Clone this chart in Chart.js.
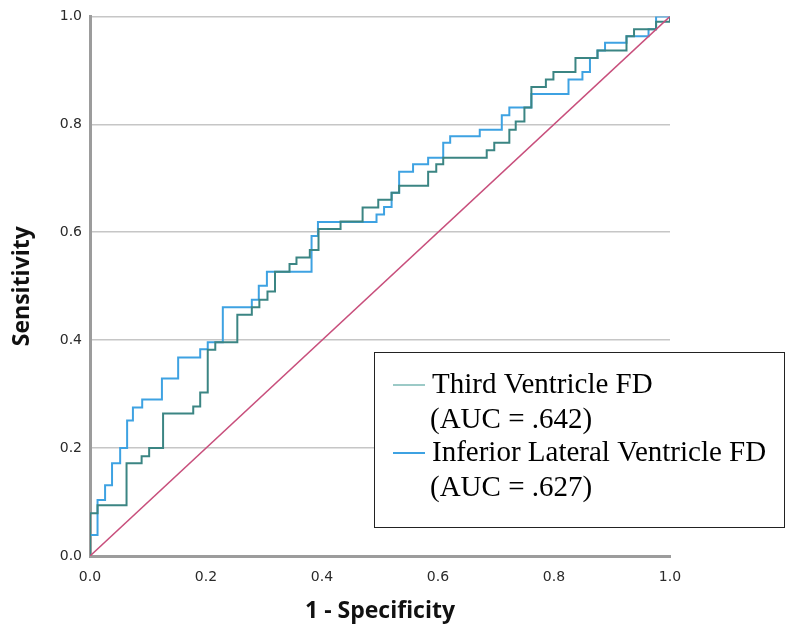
<!DOCTYPE html>
<html>
<head>
<meta charset="utf-8">
<title>ROC curve</title>
<script src="https://cdn.jsdelivr.net/npm/chart.js@4.4.1/dist/chart.umd.min.js"></script>
<style>
  html, body { margin: 0; padding: 0; background: #fff; }
  #wrap { width: 786px; height: 628px; }
</style>
</head>
<body>
<div id="wrap"><canvas id="roc" width="786" height="628"></canvas></div>
<script>
// ROC points (1 - specificity, sensitivity), one array each
const thirdFpr = [0, 0, 0.013, 0.063, 0.089, 0.102, 0.126, 0.178, 0.19, 0.203,
  0.216, 0.254, 0.279, 0.292, 0.306, 0.319, 0.344, 0.356, 0.379, 0.394,
  0.432, 0.47, 0.497, 0.52, 0.533, 0.583, 0.597, 0.609, 0.684, 0.697,
  0.723, 0.734, 0.749, 0.761, 0.786, 0.799, 0.837, 0.875, 0.925, 0.938,
  0.976, 1.0];
const thirdTpr = [0, 0.079, 0.094, 0.172, 0.185, 0.2, 0.264, 0.277, 0.303, 0.382,
  0.396, 0.447, 0.461, 0.475, 0.49, 0.527, 0.541, 0.553, 0.567, 0.606,
  0.62, 0.646, 0.66, 0.673, 0.686, 0.712, 0.726, 0.738, 0.752, 0.766,
  0.79, 0.805, 0.831, 0.869, 0.883, 0.897, 0.923, 0.937, 0.963, 0.976,
  0.99, 1.0];

const inferiorFpr = [0, 0, 0.013, 0.026, 0.038, 0.052, 0.064, 0.074, 0.09, 0.124,
  0.152, 0.19, 0.203, 0.229, 0.279, 0.291, 0.305, 0.382, 0.393, 0.494,
  0.507, 0.52, 0.533, 0.557, 0.583, 0.609, 0.621, 0.672, 0.71, 0.723,
  0.761, 0.825, 0.849, 0.862, 0.875, 0.888, 0.925, 0.963, 0.976, 1.0];
const inferiorTpr = [0, 0.039, 0.104, 0.131, 0.172, 0.2, 0.251, 0.275, 0.29, 0.329,
  0.368, 0.383, 0.396, 0.461, 0.475, 0.501, 0.527, 0.593, 0.619, 0.633,
  0.647, 0.673, 0.712, 0.726, 0.738, 0.766, 0.778, 0.79, 0.817, 0.831,
  0.856, 0.883, 0.897, 0.923, 0.937, 0.951, 0.963, 0.976, 1.0, 1.0];

const referenceLine = [0, 1];

const axisTicks = [0, 0.2, 0.4, 0.6, 0.8, 1.0];

const legendItems = [
  { label: 'Third Ventricle FD', auc: '(AUC = .642)', color: '#9ccac7' },
  { label: 'Inferior Lateral Ventricle FD', auc: '(AUC = .627)', color: '#3ea2e2' }
];

function toPoints(xs, ys) {
  return xs.map((x, i) => ({ x: x, y: ys[i] }));
}

// boxed legend in the lower right, drawn straight onto the canvas
const boxLegend = {
  id: 'boxLegend',
  afterDraw(chart) {
    const ctx = chart.ctx;
    ctx.save();
    ctx.fillStyle = '#fff';
    ctx.fillRect(374, 352, 411, 176);
    ctx.strokeStyle = '#222';
    ctx.lineWidth = 1;
    ctx.strokeRect(374.5, 352.5, 410, 175);

    ctx.font = '29px "Liberation Serif", "Times New Roman", serif';
    ctx.textBaseline = 'middle';
    ctx.fillStyle = '#000';
    const rows = [385, 453];
    legendItems.forEach((item, i) => {
      const y = rows[i];
      ctx.strokeStyle = item.color;
      ctx.lineWidth = 2;
      ctx.beginPath();
      ctx.moveTo(393, y);
      ctx.lineTo(425, y);
      ctx.stroke();
      ctx.fillText(item.label, 432, y);
      ctx.fillText(item.auc, 430, y + 35);
    });
    ctx.restore();
  }
};

const ctx = document.getElementById('roc').getContext('2d');
new Chart(ctx, {
  type: 'scatter',
  data: {
    datasets: [
      {
        label: 'Reference Line',
        data: toPoints(referenceLine, referenceLine),
        showLine: true,
        borderColor: '#c84f7c',
        borderWidth: 1.5,
        pointRadius: 0
      },
      {
        label: 'Third Ventricle FD',
        data: toPoints(thirdFpr, thirdTpr),
        showLine: true,
        stepped: 'before',
        borderColor: '#3b8583',
        borderWidth: 2,
        pointRadius: 0
      },
      {
        label: 'Inferior Lateral Ventricle FD',
        data: toPoints(inferiorFpr, inferiorTpr),
        showLine: true,
        stepped: 'before',
        borderColor: '#3ea2e2',
        borderWidth: 2,
        pointRadius: 0
      }
    ]
  },
  options: {
    responsive: false,
    animation: false,
    layout: { padding: { top: 15, right: 116, left: 0, bottom: 0 } },
    plugins: {
      legend: { display: false },
      tooltip: { enabled: false }
    },
    scales: {
      x: {
        type: 'linear',
        min: 0,
        max: 1,
        afterBuildTicks: scale => { scale.ticks = axisTicks.map(v => ({ value: v })); },
        afterFit: scale => { scale.height = 72; },
        grid: { display: false },
        border: { color: '#9c9c9c', width: 3 },
        ticks: {
          padding: 5,
          color: '#2a2a2a',
          font: { family: 'DejaVu Sans', size: 14 },
          callback: v => v.toFixed(1)
        },
        title: {
          display: true,
          text: '1 - Specificity',
          color: '#111',
          font: { family: 'Open Sans', size: 23, weight: 'bold' },
          padding: { top: 0, bottom: 3 }
        }
      },
      y: {
        type: 'linear',
        min: 0,
        max: 1,
        afterBuildTicks: scale => { scale.ticks = axisTicks.map(v => ({ value: v })); },
        afterFit: scale => { scale.width = 90; },
        grid: { color: '#c6c6c6', lineWidth: 1.5, drawTicks: false },
        border: { color: '#9c9c9c', width: 3 },
        ticks: {
          padding: 8,
          color: '#2a2a2a',
          font: { family: 'DejaVu Sans', size: 14 },
          callback: v => v.toFixed(1)
        },
        title: {
          display: true,
          text: 'Sensitivity',
          color: '#111',
          font: { family: 'Open Sans', size: 23, weight: 'bold' },
          padding: { top: 9, bottom: 0 }
        }
      }
    }
  },
  plugins: [boxLegend]
});
</script>
</body>
</html>
